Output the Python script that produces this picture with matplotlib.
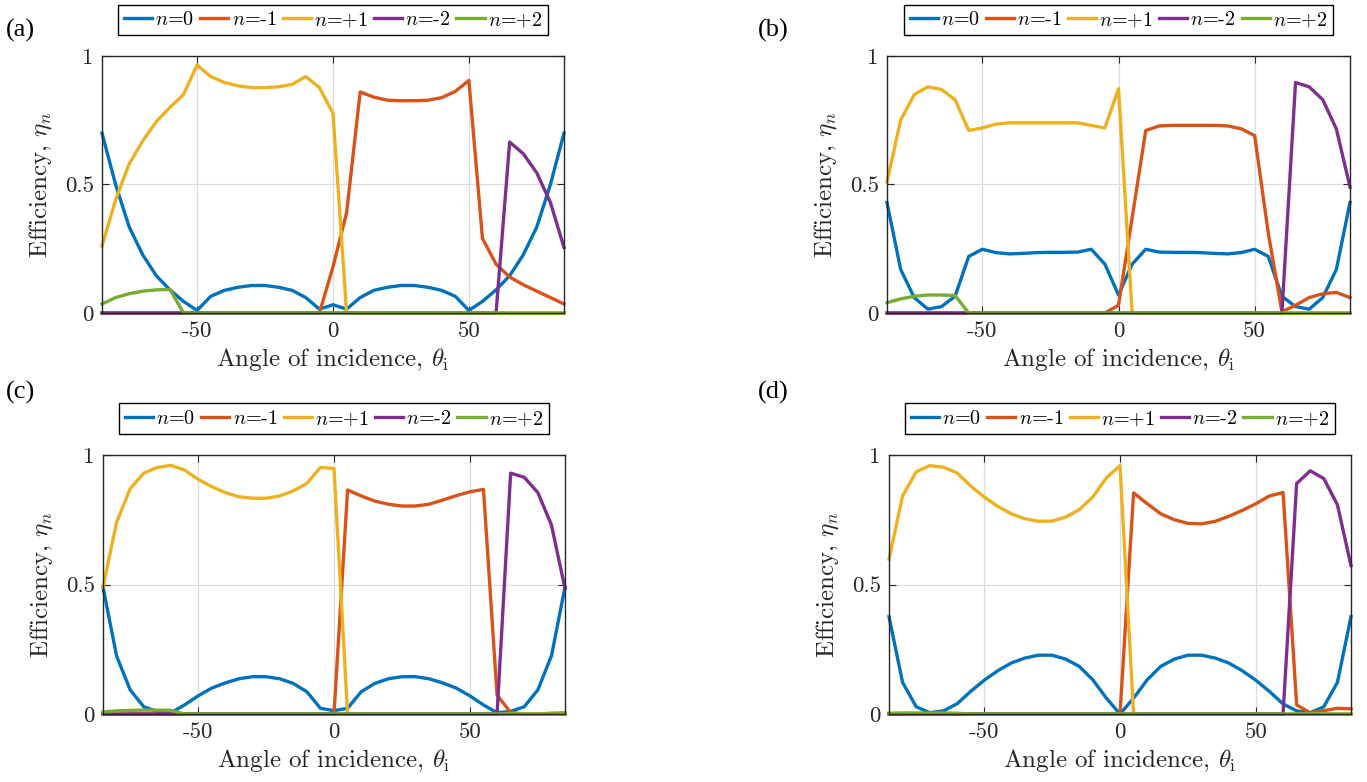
import matplotlib
matplotlib.use("Agg")
import matplotlib.pyplot as plt

plt.rcParams['font.family'] = 'serif'
plt.rcParams['font.serif'] = ['cmr10', 'DejaVu Serif']
plt.rcParams['mathtext.fontset'] = 'cm'
plt.rcParams['axes.unicode_minus'] = False

# angle of incidence (deg), sampled every 5 deg
theta = [-85, -80, -75, -70, -65, -60, -55, -50, -45, -40, -35, -30, -25, -20, -15, -10, -5,
         0, 5, 10, 15, 20, 25, 30, 35, 40, 45, 50, 55, 60, 65, 70, 75, 80, 85]

labels = ['$n$=0', '$n$=-1', '$n$=+1', '$n$=-2', '$n$=+2']
colors = ['#0072BD', '#D95319', '#EDB120', '#7E2F8E', '#77AC30']
panel_tags = ['(a)', '(b)', '(c)', '(d)']
xtick_vals = [-50, 0, 50]
xtick_labels = ['-50', '0', '50']
ytick_vals = [0, 0.5, 1]
ytick_labels = ['0', '0.5', '1']

# panel (a)
a_n0 = [0.70, 0.50, 0.335, 0.226, 0.145, 0.09, 0.045, 0.01, 0.065, 0.088, 0.10, 0.107, 0.107, 0.10, 0.088, 0.06, 0.015,
        0.032, 0.015, 0.06, 0.088, 0.10, 0.107, 0.107, 0.10, 0.088, 0.065, 0.01, 0.045, 0.09, 0.145, 0.226, 0.335, 0.50, 0.70]
a_m1 = [0, 0, 0, 0, 0, 0, 0, 0, 0, 0, 0, 0, 0, 0, 0, 0, 0,
        0.18, 0.39, 0.86, 0.84, 0.828, 0.826, 0.826, 0.828, 0.838, 0.862, 0.905, 0.29, 0.19, 0.14, 0.11, 0.085, 0.06, 0.035]
a_p1 = [0.26, 0.44, 0.58, 0.67, 0.745, 0.80, 0.85, 0.965, 0.92, 0.897, 0.884, 0.877, 0.877, 0.88, 0.89, 0.92, 0.877,
        0.777, 0, 0, 0, 0, 0, 0, 0, 0, 0, 0, 0, 0, 0, 0, 0, 0, 0]
a_m2 = [0, 0, 0, 0, 0, 0, 0, 0, 0, 0, 0, 0, 0, 0, 0, 0, 0,
        0, 0, 0, 0, 0, 0, 0, 0, 0, 0, 0, 0, 0, 0.665, 0.62, 0.545, 0.43, 0.255]
a_p2 = [0.035, 0.06, 0.075, 0.085, 0.09, 0.092, 0, 0, 0, 0, 0, 0, 0, 0, 0, 0, 0,
        0, 0, 0, 0, 0, 0, 0, 0, 0, 0, 0, 0, 0, 0, 0, 0, 0, 0]

# panel (b)
b_n0 = [0.43, 0.17, 0.06, 0.015, 0.025, 0.065, 0.22, 0.248, 0.235, 0.23, 0.232, 0.235, 0.236, 0.236, 0.237, 0.248, 0.19,
        0.07, 0.19, 0.248, 0.237, 0.236, 0.236, 0.235, 0.232, 0.23, 0.235, 0.248, 0.22, 0.065, 0.025, 0.015, 0.06, 0.17, 0.43]
b_m1 = [0, 0, 0, 0, 0, 0, 0, 0, 0, 0, 0, 0, 0, 0, 0, 0, 0,
        0.03, 0.37, 0.71, 0.728, 0.73, 0.73, 0.73, 0.73, 0.728, 0.717, 0.69, 0.31, 0.005, 0.03, 0.06, 0.075, 0.08, 0.06]
b_p1 = [0.51, 0.75, 0.85, 0.88, 0.87, 0.83, 0.71, 0.72, 0.735, 0.74, 0.74, 0.74, 0.74, 0.74, 0.74, 0.73, 0.72,
        0.873, 0, 0, 0, 0, 0, 0, 0, 0, 0, 0, 0, 0, 0, 0, 0, 0, 0]
b_m2 = [0, 0, 0, 0, 0, 0, 0, 0, 0, 0, 0, 0, 0, 0, 0, 0, 0,
        0, 0, 0, 0, 0, 0, 0, 0, 0, 0, 0, 0, 0, 0.897, 0.88, 0.83, 0.716, 0.49]
b_p2 = [0.04, 0.055, 0.065, 0.07, 0.07, 0.068, 0, 0, 0, 0, 0, 0, 0, 0, 0, 0, 0,
        0, 0, 0, 0, 0, 0, 0, 0, 0, 0, 0, 0, 0, 0, 0, 0, 0, 0]

# panel (c)
c_n0 = [0.49, 0.224, 0.093, 0.028, 0.01, 0.005, 0.035, 0.07, 0.10, 0.12, 0.136, 0.144, 0.144, 0.136, 0.118, 0.086, 0.022,
        0.013, 0.022, 0.086, 0.118, 0.136, 0.144, 0.144, 0.136, 0.12, 0.10, 0.07, 0.035, 0.005, 0.01, 0.028, 0.093, 0.224, 0.49]
c_m1 = [0, 0, 0, 0, 0, 0, 0, 0, 0, 0, 0, 0, 0, 0, 0, 0, 0,
        0, 0.865, 0.842, 0.822, 0.81, 0.803, 0.803, 0.81, 0.826, 0.843, 0.858, 0.867, 0.073, 0.006, 0, 0, 0.003, 0.004]
c_p1 = [0.49, 0.74, 0.87, 0.93, 0.952, 0.96, 0.942, 0.906, 0.878, 0.855, 0.839, 0.833, 0.833, 0.842, 0.861, 0.89, 0.952,
        0.948, 0, 0, 0, 0, 0, 0, 0, 0, 0, 0, 0, 0, 0, 0, 0, 0, 0]
c_m2 = [0, 0, 0, 0, 0, 0, 0, 0, 0, 0, 0, 0, 0, 0, 0, 0, 0,
        0, 0, 0, 0, 0, 0, 0, 0, 0, 0, 0, 0, 0, 0.93, 0.914, 0.855, 0.73, 0.485]
c_p2 = [0.008, 0.012, 0.014, 0.015, 0.015, 0.014, 0, 0, 0, 0, 0, 0, 0, 0, 0, 0, 0,
        0, 0, 0, 0, 0, 0, 0, 0, 0, 0, 0, 0, 0, 0, 0, 0, 0, 0]

# panel (d)
d_n0 = [0.376, 0.122, 0.028, 0.005, 0.012, 0.039, 0.087, 0.13, 0.167, 0.197, 0.216, 0.227, 0.227, 0.212, 0.184, 0.132, 0.061,
        0.0, 0.061, 0.132, 0.184, 0.212, 0.227, 0.227, 0.216, 0.197, 0.167, 0.13, 0.087, 0.039, 0.012, 0.005, 0.028, 0.122, 0.376]
d_m1 = [0, 0, 0, 0, 0, 0, 0, 0, 0, 0, 0, 0, 0, 0, 0, 0, 0,
        0, 0.854, 0.812, 0.773, 0.75, 0.736, 0.734, 0.744, 0.763, 0.786, 0.812, 0.842, 0.855, 0.035, 0.005, 0.013, 0.022, 0.02]
d_p1 = [0.598, 0.842, 0.935, 0.959, 0.953, 0.931, 0.881, 0.838, 0.802, 0.773, 0.754, 0.744, 0.745, 0.76, 0.789, 0.838, 0.912,
        0.959, 0, 0, 0, 0, 0, 0, 0, 0, 0, 0, 0, 0, 0, 0, 0, 0, 0]
d_m2 = [0, 0, 0, 0, 0, 0, 0, 0, 0, 0, 0, 0, 0, 0, 0, 0, 0,
        0, 0, 0, 0, 0, 0, 0, 0, 0, 0, 0, 0, 0, 0.89, 0.939, 0.909, 0.808, 0.573]
d_p2 = [0.003, 0.004, 0.004, 0.004, 0.004, 0.003, 0, 0, 0, 0, 0, 0, 0, 0, 0, 0, 0,
        0, 0, 0, 0, 0, 0, 0, 0, 0, 0, 0, 0, 0, 0, 0, 0, 0, 0]

panels = [[a_n0, a_m1, a_p1, a_m2, a_p2],
          [b_n0, b_m1, b_p1, b_m2, b_p2],
          [c_n0, c_m1, c_p1, c_m2, c_p2],
          [d_n0, d_m1, d_p1, d_m2, d_p2]]

W, H = 1367, 782
fig = plt.figure(figsize=(W / 100, H / 100), dpi=100)

# axes boxes in pixels: left, top, right, bottom
boxes = [(102, 56, 564, 313), (887, 56, 1350, 313),
         (103, 455, 565, 714), (889, 455, 1351, 714)]
tag_pos = [(6, 30), (758, 30), (6, 392), (758, 392)]

for k, series in enumerate(panels):
    l, t, r, b = boxes[k]
    ax = fig.add_axes([l / W, 1 - b / H, (r - l) / W, (b - t) / H])
    for y, lab, c in zip(series, labels, colors):
        ax.plot(theta, y, color=c, lw=2.4, label=lab, clip_on=False)
    ax.set_xlim(-85, 85)
    ax.set_ylim(0, 1)
    ax.set_xticks(xtick_vals, labels=xtick_labels)
    ax.set_yticks(ytick_vals, labels=ytick_labels)
    ax.tick_params(direction='in', length=5, width=0.8, top=True, right=True,
                   labelsize=16.5, colors='#262626', pad=6)
    ax.grid(True, color='#dcdcdc', lw=0.9)
    ax.set_axisbelow(True)
    for sp in ax.spines.values():
        sp.set_color('#262626')
        sp.set_linewidth(1.0)
    ax.set_xlabel(r'Angle of incidence, $\theta_\mathrm{i}$', fontsize=18, color='#262626', labelpad=4)
    ax.set_ylabel(r'Efficiency, $\eta_n$', fontsize=18, color='#262626', labelpad=8)
    leg = ax.legend(ncol=5, loc='lower center', bbox_to_anchor=(0.5, 1.08), fontsize=14.5,
                    frameon=True, fancybox=False, framealpha=1, edgecolor='black',
                    handlelength=1.4, handletextpad=0.15, columnspacing=0.3,
                    borderpad=0.3, borderaxespad=0)
    leg.get_frame().set_linewidth(1.0)
    tx, ty = tag_pos[k]
    fig.text(tx / W, 1 - ty / H, panel_tags[k], fontsize=19, family='Liberation Serif',
             va='center', ha='left')

fig.savefig('out.png', dpi=100)
